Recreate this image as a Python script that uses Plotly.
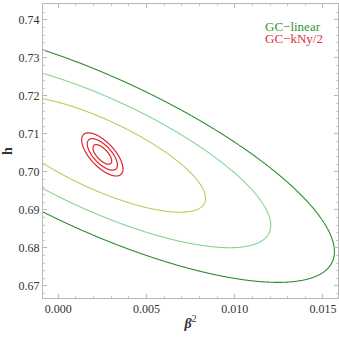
import numpy as np
import plotly.graph_objects as go

# ---- data ----
series_names = ["GC\u2212linear", "GC\u2212kNy/2"]
gc_linear_center = [0.0023, 0.7047]      # (beta^2, h)
gc_linear_sigma = [0.00399, 0.0101]
gc_linear_rho = -0.76
gc_kny_center = [0.0025, 0.7046]
gc_kny_sigma = [0.00035, 0.0017]
gc_kny_rho = -0.67
chi2_levels = [2.30, 5.96, 11.19]
x_tickvals = [0.0, 0.005, 0.010, 0.015]
y_tickvals = [0.67, 0.68, 0.69, 0.70, 0.71, 0.72, 0.73, 0.74]

# ---- styles ----
green_colors = ["#a9d45c", "#82d693", "#2c8c2c"]   # inner, middle, outer
red_color = "#e3202e"
legend_colors = ["#33952f", "#e0303c"]
FONT = "Liberation Serif"
x_range = [-0.00086, 0.01585]
y_range = [0.6668, 0.7442]


def chi2_grid(center, sigma, rho, xs, ys):
    X, Y = np.meshgrid(xs, ys)
    dx = (X - center[0]) / sigma[0]
    dy = (Y - center[1]) / sigma[1]
    return (dx * dx - 2 * rho * dx * dy + dy * dy) / (1 - rho * rho)


xs = np.linspace(x_range[0] - 0.0005, x_range[1] + 0.0005, 500)
ys = np.linspace(y_range[0] - 0.002, y_range[1] + 0.002, 500)
z_lin = chi2_grid(gc_linear_center, gc_linear_sigma, gc_linear_rho, xs, ys)
xs_r = np.linspace(0.0005, 0.0045, 300)
ys_r = np.linspace(0.694, 0.716, 300)
z_kny = chi2_grid(gc_kny_center, gc_kny_sigma, gc_kny_rho, xs_r, ys_r)

fig = go.Figure()
for lev, col in zip(chi2_levels, green_colors):
    fig.add_trace(go.Contour(x=xs, y=ys, z=z_lin,
                             contours=dict(start=lev, end=lev, size=1, coloring="lines"),
                             colorscale=[[0, col], [1, col]], showscale=False,
                             line=dict(width=1.1), hoverinfo="skip"))
for lev in chi2_levels:
    fig.add_trace(go.Contour(x=xs_r, y=ys_r, z=z_kny,
                             contours=dict(start=lev, end=lev, size=1, coloring="lines"),
                             colorscale=[[0, red_color], [1, red_color]], showscale=False,
                             line=dict(width=1.2), hoverinfo="skip"))

axis_common = dict(showgrid=False, zeroline=False, showline=True, linecolor="#b8b8b8", linewidth=1,
                   mirror="allticks", ticks="inside", ticklen=4, tickcolor="#b8b8b8", tickwidth=1,
                   automargin=False,
                   tickfont=dict(family=FONT, size=12, color="#333333"))
fig.update_xaxes(range=x_range, tickvals=x_tickvals, tickformat=".3f",
                 minor=dict(dtick=0.001, ticks="inside", ticklen=2, tickcolor="#c8c8c8", showgrid=False),
                 title=dict(text="<b><i>\u03b2</i></b><sup>2</sup>", standoff=2,
                            font=dict(family=FONT, size=14, color="#333333")),
                 **axis_common)
fig.update_yaxes(range=y_range, tickvals=y_tickvals, tickformat=".2f",
                 minor=dict(dtick=0.002, ticks="inside", ticklen=2, tickcolor="#c8c8c8", showgrid=False),
                 title=dict(text="<b>h</b>", standoff=2,
                            font=dict(family=FONT, size=14, color="#333333")),
                 **axis_common)

for i, (name, col) in enumerate(zip(series_names, legend_colors)):
    fig.add_annotation(text=name, xref="paper", yref="paper", x=0.746, y=0.923 - i * 0.042,
                       xanchor="left", yanchor="middle", showarrow=False,
                       font=dict(family=FONT, size=13, color=col))

fig.update_layout(width=339, height=339, margin=dict(l=43, r=1, t=4, b=41), showlegend=False,
                  plot_bgcolor="white", paper_bgcolor="white")
fig.write_html("out.html", config={"displayModeBar": False},
               post_script="document.body.style.margin='0px';")
